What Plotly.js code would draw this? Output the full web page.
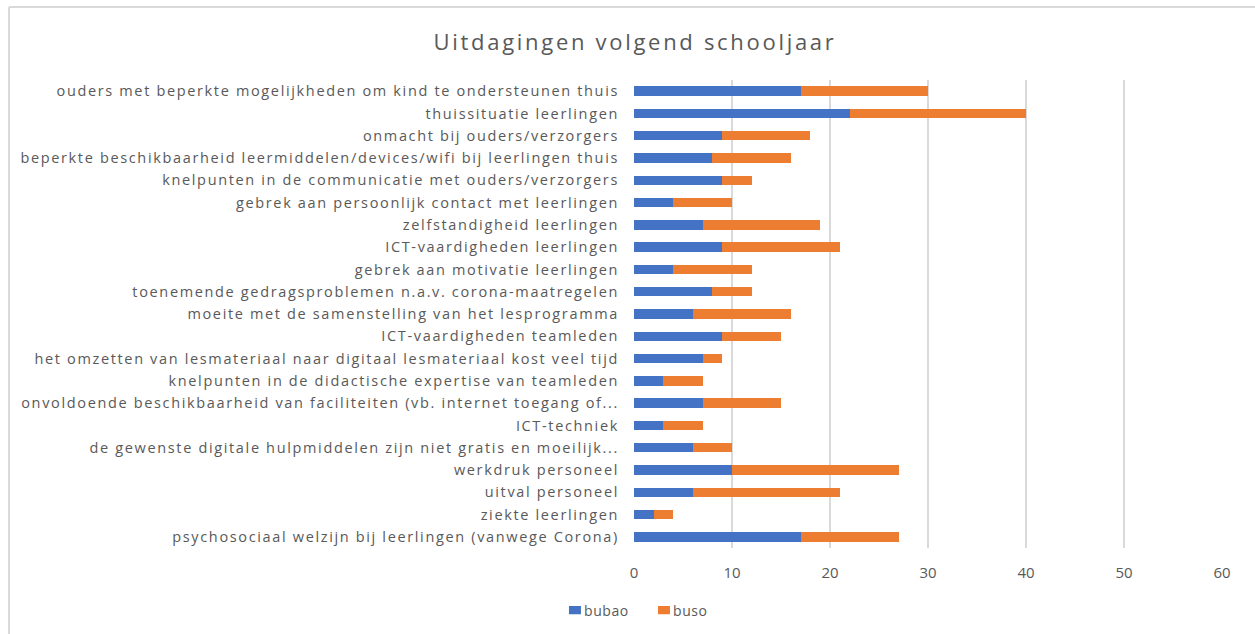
<!DOCTYPE html>
<html>
<head>
<meta charset="utf-8">
<script src="https://cdn.plot.ly/plotly-3.0.1.min.js"></script>
<style>
html,body{margin:0;padding:0;background:#fff;}
#chart{width:1255px;height:634px;}
#chart .ytick text{letter-spacing:1.65px;}
#chart .gtitle{letter-spacing:2.7px;}
#chart .legend .legendpoints path{transform:translate(20px,0px) scale(1,0.67);}
#chart .legend .legendtext{transform:translateX(-11px);letter-spacing:0.6px;}
</style>
</head>
<body>
<div id="chart"></div>
<script>
const categories = [
  "ouders met beperkte mogelijkheden om kind te ondersteunen thuis",
  "thuissituatie leerlingen",
  "onmacht bij ouders/verzorgers",
  "beperkte beschikbaarheid leermiddelen/devices/wifi bij leerlingen thuis",
  "knelpunten in de communicatie met ouders/verzorgers",
  "gebrek aan persoonlijk contact met leerlingen",
  "zelfstandigheid leerlingen",
  "ICT-vaardigheden leerlingen",
  "gebrek aan motivatie leerlingen",
  "toenemende gedragsproblemen n.a.v. corona-maatregelen",
  "moeite met de samenstelling van het lesprogramma",
  "ICT-vaardigheden teamleden",
  "het omzetten van lesmateriaal naar digitaal lesmateriaal kost veel tijd",
  "knelpunten in de didactische expertise van teamleden",
  "onvoldoende beschikbaarheid van faciliteiten (vb. internet toegang of...",
  "ICT-techniek",
  "de gewenste digitale hulpmiddelen zijn niet gratis en moeilijk...",
  "werkdruk personeel",
  "uitval personeel",
  "ziekte leerlingen",
  "psychosociaal welzijn bij leerlingen (vanwege Corona)"
];
const bubao = [17, 22, 9, 8, 9, 4, 7, 9, 4, 8, 6, 9, 7, 3, 7, 3, 6, 10, 6, 2, 17];
const buso  = [13, 18, 9, 8, 3, 6, 12, 12, 8, 4, 10, 6, 2, 4, 8, 4, 4, 17, 15, 2, 10];
const xTicks = [0, 10, 20, 30, 40, 50, 60];
const chartTitle = "Uitdagingen volgend schooljaar";

const FONT = "'Open Sans', Lato, sans-serif";
const traces = [
  {type: 'bar', orientation: 'h', name: 'bubao', y: categories, x: bubao,
   marker: {color: '#4472C4'}, hoverinfo: 'x+y'},
  {type: 'bar', orientation: 'h', name: 'buso', y: categories, x: buso,
   marker: {color: '#ED7D31'}, hoverinfo: 'x+y'}
];

const layout = {
  width: 1255, height: 634,
  margin: {l: 634, r: 33, t: 80, b: 86},
  barmode: 'stack',
  bargap: 0.58,
  paper_bgcolor: '#ffffff',
  plot_bgcolor: '#ffffff',
  font: {family: FONT, color: '#595959', size: 14.5},
  title: {text: chartTitle, font: {family: FONT, size: 22, color: '#595959'},
          x: 0.506, xref: 'container', xanchor: 'center', y: 0.934, yref: 'container', yanchor: 'middle'},
  xaxis: {range: [0, 60], tickvals: xTicks, ticktext: xTicks.map(String),
          showgrid: true, gridcolor: '#D9D9D9', gridwidth: 1.3, zeroline: false,
          showline: false, ticks: '', tickfont: {size: 15, color: '#595959'},
          ticklabelstandoff: 14, fixedrange: true},
  yaxis: {type: 'category', autorange: 'reversed', showgrid: false, zeroline: false,
          showline: false, ticks: '', ticklabelstandoff: 14,
          tickfont: {size: 14.5, color: '#595959'}, fixedrange: true},
  showlegend: true,
  legend: {orientation: 'h', xref: 'container', yref: 'container', x: 0.4422, y: 0.037,
           xanchor: 'left', yanchor: 'middle', font: {size: 14, color: '#595959'},
           itemwidth: 30, traceorder: 'normal', entrywidth: 44, entrywidthmode: 'pixels'},
  shapes: [
    {type: 'line', xref: 'paper', yref: 'paper', x0: -1.063, x1: 1.06, y0: 1.156, y1: 1.156,
     line: {color: '#D9D9D9', width: 2}},
    {type: 'line', xref: 'paper', yref: 'paper', x0: -1.063, x1: -1.063, y0: 1.156, y1: -0.19,
     line: {color: '#D9D9D9', width: 2}}
  ]
};

Plotly.newPlot('chart', traces, layout, {displayModeBar: false, staticPlot: true});
</script>
</body>
</html>
